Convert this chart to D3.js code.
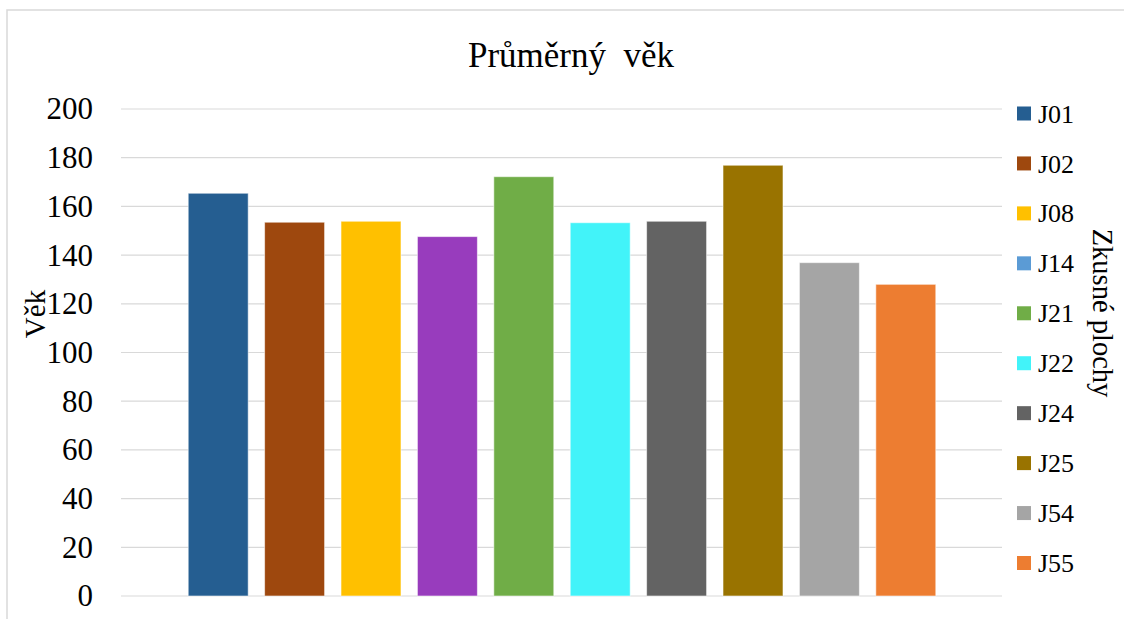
<!DOCTYPE html>
<html>
<head>
<meta charset="utf-8">
<script src="https://cdn.jsdelivr.net/npm/d3@7"></script>
<style>
  html, body { margin: 0; padding: 0; background: #ffffff; }
  svg { display: block; font-family: "Liberation Serif", "Times New Roman", serif; }
</style>
</head>
<body>
<svg id="chart" width="1124" height="619"></svg>
<script>
// Average age per sample plot
const categories = ["J01", "J02", "J08", "J14", "J21", "J22", "J24", "J25", "J54", "J55"];
const values = [165.4, 153.5, 153.9, 147.6, 172.2, 153.3, 153.9, 176.9, 136.9, 128.0];
const barColors = ["#255E91", "#9E480E", "#FFC000", "#983CBD", "#70AD47", "#42F3F9", "#636363", "#997300", "#A5A5A5", "#ED7D31"];
const legendColors = ["#255E91", "#9E480E", "#FFC000", "#5B9BD5", "#70AD47", "#42F3F9", "#636363", "#997300", "#A5A5A5", "#ED7D31"];
const yTicks = [0, 20, 40, 60, 80, 100, 120, 140, 160, 180, 200];

const svg = d3.select("#chart");

// chart frame
svg.append("rect")
  .attr("x", 7).attr("y", 10)
  .attr("width", 1140).attr("height", 640)
  .attr("fill", "#ffffff")
  .attr("stroke", "#D9D9D9").attr("stroke-width", 1.5);

const plot = { left: 121, right: 1002, top: 109, bottom: 596 };

const y = d3.scaleLinear().domain([0, 200]).range([plot.bottom, plot.top]);
const x = d3.scaleBand()
  .domain(categories)
  .range([180, 944])
  .paddingInner(0.215)
  .paddingOuter(0.1075);

// gridlines
svg.append("g")
  .selectAll("line")
  .data(yTicks)
  .join("line")
  .attr("x1", plot.left).attr("x2", plot.right)
  .attr("y1", d => y(d)).attr("y2", d => y(d))
  .attr("stroke", "#D9D9D9").attr("stroke-width", 1.2);

// y axis tick labels
const yAxis = d3.axisLeft(y).tickValues(yTicks).tickSize(0).tickPadding(0);
const gy = svg.append("g")
  .attr("transform", "translate(93,0)")
  .call(yAxis);
gy.select(".domain").remove();
gy.selectAll("text")
  .attr("font-family", "'Liberation Serif', 'Times New Roman', serif")
  .attr("font-size", 31)
  .attr("fill", "#000000");

// bars
svg.append("g")
  .selectAll("rect")
  .data(categories)
  .join("rect")
  .attr("x", d => x(d))
  .attr("width", x.bandwidth())
  .attr("y", (d, i) => y(values[i]))
  .attr("height", (d, i) => y(0) - y(values[i]))
  .attr("fill", (d, i) => barColors[i])
  .attr("stroke", "#ffffff").attr("stroke-opacity", 0.55).attr("stroke-width", 1);

// title
svg.append("text")
  .attr("x", 571).attr("y", 67)
  .attr("text-anchor", "middle")
  .attr("font-size", 35)
  .attr("fill", "#000000")
  .style("white-space", "pre")
  .text("Průměrný  věk");

// y axis title
svg.append("text")
  .attr("transform", "translate(35,314) rotate(-90)")
  .attr("text-anchor", "middle")
  .attr("dy", "0.35em")
  .attr("font-size", 29)
  .attr("fill", "#000000")
  .text("Věk");

// legend
const legend = svg.append("g");
const legendY = d3.scalePoint().domain(categories).range([113.5, 563]);
const items = legend.selectAll("g")
  .data(categories)
  .join("g")
  .attr("transform", d => `translate(1017,${legendY(d)})`);
items.append("rect")
  .attr("x", 0).attr("y", -7)
  .attr("width", 14).attr("height", 14)
  .attr("fill", (d, i) => legendColors[i]);
items.append("text")
  .attr("x", 21).attr("dy", "0.35em")
  .attr("font-size", 26)
  .attr("fill", "#000000")
  .text(d => d);

// legend title
svg.append("text")
  .attr("transform", "translate(1103,313) rotate(90)")
  .attr("text-anchor", "middle")
  .attr("dy", "0.35em")
  .attr("font-size", 28.5)
  .attr("fill", "#000000")
  .text("Zkusné plochy");
</script>
</body>
</html>
